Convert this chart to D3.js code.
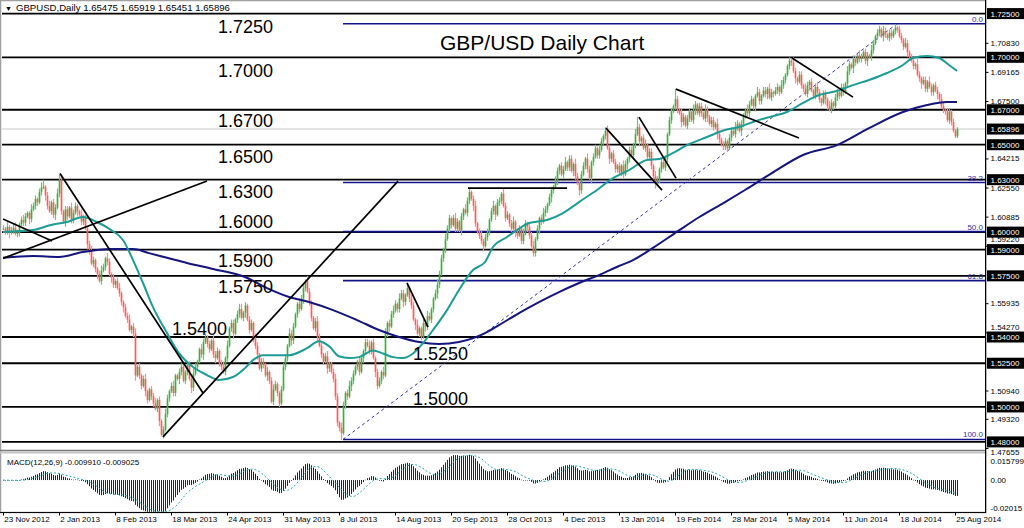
<!DOCTYPE html>
<html><head><meta charset="utf-8">
<script src="https://cdn.jsdelivr.net/npm/d3@7"></script>
<style>
body{margin:0;background:#fff}
svg{display:block}
text{font-family:"Liberation Sans",Arial,sans-serif}
</style></head>
<body><svg id="c" width="1024" height="528"></svg>
<script>
// ---------- DATA ----------
const dateLabels = ["23 Nov 2012","2 Jan 2013","8 Feb 2013","18 Mar 2013","24 Apr 2013","31 May 2013","8 Jul 2013","14 Aug 2013","20 Sep 2013","28 Oct 2013","4 Dec 2013","13 Jan 2014","19 Feb 2014","28 Mar 2014","5 May 2014","11 Jun 2014","18 Jul 2014","25 Aug 2014"];
const dateTickIdx = [0,28,56,84,112,140,168,196,224,252,280,308,336,364,392,420,448,476];

// daily closes (price x 10000)
const closes = [
16020,16005,16030,15995,16010,16025,15990,16005,16045,16070,16055,16090,16110,16075,16130,16150,16190,16170,16230,16255,16260,16210,16150,16120,16170,16100,16140,16220,
16300,16120,16060,16130,16090,16140,16070,16110,16150,16120,16100,16060,16080,16020,15930,15890,15820,15840,15790,15760,15720,15780,15800,15850,15830,15760,15740,15700,
15720,15680,15650,15600,15570,15520,15500,15440,15460,15420,15180,15230,15180,15120,15160,15090,15040,15100,15060,15020,14990,15040,14920,14840,14870,14960,15050,15090,
15120,15080,15180,15160,15200,15230,15150,15200,15240,15160,15110,15190,15230,15260,15330,15300,15370,15400,15360,15330,15380,15300,15280,15320,15250,15230,15200,15280,
15350,15450,15480,15420,15500,15530,15560,15510,15540,15580,15500,15440,15480,15390,15350,15300,15220,15260,15240,15180,15200,15150,15030,15100,15130,15080,15020,15100,
15230,15280,15350,15420,15380,15460,15530,15590,15560,15620,15680,15720,15660,15600,15510,15450,15490,15400,15350,15300,15260,15290,15220,15250,15200,15160,15060,14910,
14880,14850,15010,15080,15060,15120,15150,15190,15230,15260,15200,15280,15320,15370,15350,15320,15370,15280,15200,15120,15150,15200,15180,15420,15480,15460,15530,15550,
15590,15560,15620,15650,15600,15640,15680,15620,15580,15500,15470,15420,15450,15400,15480,15460,15520,15500,15560,15620,15650,15700,15760,15850,15900,15960,16020,16080,
16040,16080,16020,16060,16010,16090,16130,16110,16180,16230,16190,16150,16050,16000,15980,15950,15920,15970,16000,16070,16120,16150,16100,16170,16180,16220,16150,16080,
16100,16050,16020,16060,16000,15980,16020,15950,15990,16050,16030,15980,15920,15880,15960,16020,16080,16060,16110,16130,16160,16200,16240,16260,16290,16350,16380,16330,
16360,16400,16370,16420,16350,16390,16320,16280,16240,16330,16380,16420,16360,16310,16400,16430,16480,16440,16470,16520,16550,16580,16480,16420,16450,16400,16360,16380,
16340,16380,16330,16390,16420,16470,16440,16500,16560,16600,16520,16540,16480,16500,16430,16460,16380,16320,16280,16300,16360,16400,16370,16420,16560,16640,16690,16720,
16760,16700,16680,16630,16660,16610,16650,16690,16640,16700,16730,16680,16720,16680,16650,16700,16660,16620,16640,16600,16620,16560,16530,16500,16490,16520,16480,16540,
16580,16560,16600,16620,16580,16620,16660,16700,16680,16730,16760,16720,16780,16800,16750,16780,16810,16790,16820,16770,16800,16790,16810,16830,16800,16840,16870,16900,
16950,16980,16970,16920,16880,16860,16900,16840,16820,16790,16840,16860,16810,16780,16830,16800,16760,16740,16790,16760,16720,16700,16740,16720,16770,16800,16780,16830,
16800,16850,16920,16960,16940,16990,16970,17010,16990,17000,17030,16980,17010,17000,17040,17080,17120,17140,17160,17120,17150,17130,17110,17140,17120,17150,17170,17160,
17120,17100,17060,17080,17030,17000,16980,16950,16960,16900,16880,16850,16870,16820,16860,16830,16800,16840,16810,16790,16760,16720,16700,16690,16640,16690,16630,16580,16548,16590
];
// upper / lower shadow beyond the body (in 10-pip units)
const wickUp = [
2,1,3,1,2,2,3,1,1,2,3,2,1,1,3,2,2,1,2,3,4,1,2,3,1,2,2,3,
3,3,1,2,2,1,3,2,2,1,1,3,2,2,1,2,3,2,1,1,2,3,2,1,3,2,1,2,
1,2,3,1,1,2,2,3,1,2,3,1,2,1,2,3,1,1,2,2,3,1,2,1,2,3,2,1,
2,3,1,1,2,2,3,1,2,2,1,3,2,1,1,3,2,2,1,2,1,3,2,2,1,2,3,1,
3,1,2,2,1,2,3,3,1,2,1,2,2,1,3,2,1,2,2,1,3,1,2,3,2,1,1,2,
2,2,1,3,2,2,1,1,3,2,2,1,3,2,1,1,2,3,2,2,1,2,3,1,1,2,3,2,
1,3,2,1,2,3,2,2,1,1,3,2,1,2,2,3,1,2,1,2,2,1,3,3,1,2,2,3,
2,1,3,2,2,1,3,1,2,2,1,3,1,1,2,2,3,2,1,1,2,3,2,2,1,3,2,2,
1,2,3,2,1,2,1,3,2,2,1,2,3,1,2,3,1,2,2,1,2,3,1,2,2,1,3,2,
2,1,2,3,1,2,2,1,3,2,1,2,2,3,1,2,1,2,3,2,1,2,2,1,3,2,1,2,
2,3,1,2,2,1,3,2,1,2,2,1,3,2,1,2,2,1,3,2,1,2,3,2,1,2,2,1,
2,1,3,2,1,2,2,1,3,6,2,1,2,3,1,2,2,1,3,2,1,2,3,2,1,2,2,1,
6,2,1,3,2,1,2,2,1,3,2,1,2,2,1,3,2,1,2,2,1,3,2,1,2,2,1,2,
2,1,3,2,1,2,2,1,3,2,2,1,1,3,2,1,2,2,1,3,2,1,2,2,1,3,2,1,
1,2,1,3,2,1,2,2,1,3,2,1,2,1,2,3,2,1,2,2,1,3,2,1,2,2,1,2,
2,1,3,2,1,2,2,1,3,2,1,2,2,1,3,2,1,2,2,1,3,2,1,2,2,1,2,1,
2,2,1,3,2,1,2,2,1,3,2,1,2,2,1,3,2,1,2,2,1,3,2,1,2,2,1,2,1,1
];
const wickDn = [
1,2,2,3,1,2,1,2,3,1,2,2,1,3,2,1,2,2,1,2,1,3,2,1,2,2,3,1,
2,2,1,3,2,1,2,2,1,3,1,2,2,1,3,2,1,2,2,3,1,2,1,2,2,1,3,2,
2,1,2,2,3,1,2,1,2,2,3,1,2,2,1,3,2,1,2,2,1,2,3,1,2,1,2,2,
1,2,2,1,3,2,1,2,2,1,3,2,1,2,1,2,3,1,2,2,1,2,3,1,2,2,1,2,
2,1,2,3,1,2,2,1,2,3,1,2,1,2,2,3,1,2,2,1,3,2,1,2,1,2,2,1,
1,2,2,1,3,2,1,2,2,1,3,2,1,2,2,1,2,3,1,2,2,1,3,2,1,2,2,2,
2,4,1,2,2,1,3,2,1,2,2,1,3,2,1,2,2,1,3,2,1,2,2,1,2,3,1,2,
1,2,2,1,3,2,1,2,2,1,3,1,2,2,1,3,2,1,2,2,1,3,2,1,2,2,1,2,
2,1,2,2,1,3,2,1,2,2,1,3,2,1,2,2,3,1,2,2,1,2,3,1,2,2,1,2,
1,2,2,1,3,2,1,2,2,1,3,2,1,2,2,1,3,2,1,2,2,1,3,2,1,2,2,1,
2,1,2,2,1,3,2,1,3,2,1,2,2,1,3,2,1,2,2,1,2,2,1,3,2,1,2,2,
1,2,2,1,3,2,1,2,2,1,3,2,1,2,2,1,2,3,3,1,2,2,1,2,2,1,2,1,
2,2,1,3,2,1,2,2,1,2,3,1,2,2,1,2,3,1,2,2,1,3,2,1,2,2,2,1,
2,1,2,2,1,3,2,1,2,2,1,2,3,1,2,2,1,2,3,1,2,2,1,2,2,1,2,2,
1,2,2,1,3,2,1,2,2,1,2,3,1,2,2,1,2,2,1,3,2,1,2,2,1,2,2,1,
2,1,2,2,1,3,2,1,2,2,1,2,3,1,2,2,1,2,2,1,3,2,1,2,2,1,2,2,
1,2,2,1,3,2,1,2,2,1,2,3,1,2,2,1,2,2,1,3,2,1,2,2,1,2,2,1,1,1
];

// moving average (teal): bar index / value
const tealIdx = [0,15,24,32,40,47,54,60,65,70,75,82,88,95,102,108,115,121,125,130,135,143,152,158,163,168,173,178,185,190,195,200,205,210,215,222,228,235,241,245,252,257,263,272,280,288,297,305,313,322,328,335,342,352,361,368,375,383,392,400,408,417,425,433,442,450,455,462,468,473,477];
const tealVal = [1.6001,1.6012,1.6041,1.6058,1.6086,1.6058,1.6012,1.5955,1.5840,1.5709,1.5571,1.5423,1.5308,1.5228,1.5182,1.5154,1.5171,1.5222,1.5268,1.5296,1.5296,1.5296,1.5336,1.5376,1.5348,1.5290,1.5280,1.5285,1.5323,1.5306,1.5285,1.5280,1.5306,1.5365,1.5440,1.5554,1.5669,1.5783,1.5829,1.5915,1.5972,1.6012,1.6052,1.6069,1.6109,1.6172,1.6241,1.6309,1.6355,1.6412,1.6418,1.6453,1.6498,1.6544,1.6584,1.6601,1.6630,1.6658,1.6687,1.6739,1.6784,1.6807,1.6841,1.6870,1.6910,1.6956,1.6996,1.7007,1.6996,1.6956,1.6922];
// moving average (navy)
const navyIdx = [0,15,28,40,54,65,73,82,92,105,121,132,143,153,165,177,188,198,208,218,228,241,248,258,268,278,288,298,308,315,325,338,348,361,371,383,400,417,433,450,462,472,477];
const navyVal = [1.5853,1.5863,1.5858,1.5886,1.5903,1.5903,1.5880,1.5853,1.5823,1.5789,1.5743,1.5680,1.5629,1.5600,1.5554,1.5497,1.5440,1.5400,1.5371,1.5360,1.5371,1.5422,1.5468,1.5537,1.5600,1.5657,1.5709,1.5754,1.5806,1.5840,1.5910,1.6010,1.6085,1.6172,1.6241,1.6327,1.6441,1.6498,1.6595,1.6687,1.6727,1.6744,1.6744];

const levels = [1.725,1.70,1.67,1.65,1.63,1.60,1.59,1.575,1.54,1.525,1.50,1.48];
const lastPrice = 1.65896;
const axisTicks = [1.70830,1.69165,1.67500,1.64215,1.62550,1.60885,1.59220,1.55935,1.54270,1.50940,1.49320,1.47655];
const levelTexts = ["1.7250","1.7000","1.6700","1.6500","1.6300","1.6000","1.5900","1.5750","1.5400","1.5250","1.5000"];
const levelTextVals = [1.725,1.70,1.67,1.65,1.63,1.60,1.59,1.575,1.54,1.525,1.50];
const levelTextIdx = [107.5,107.5,107.5,107.5,107.5,107.5,107.5,107.5,84.5,205,205];
const trendLines = [
 [0,1.6075,24.5,1.5949],
 [0,1.5850,102,1.6292],
 [28.5,1.6335,100,1.5080],
 [80,1.4829,197.5,1.6292],
 [232.5,1.6252,282,1.6252],
 [202,1.5710,212.5,1.5456],
 [301.5,1.6595,329.5,1.6240],
 [318,1.6658,336.5,1.6309],
 [336.5,1.6818,398,1.6538],
 [394.5,1.6996,425,1.6772]
];
const fibLow = 1.4814, fibHigh = 1.7192, fibLowIdx = 170, fibHighIdx = 447;
const fibRatios = [0,0.382,0.5,0.618,1];
const fibNames = ["0.0","38.2","50.0","61.8","100.0"];
const macdTicks = [0.015799,0,-0.02015];
const macdTickNames = ["0.015799","0.00","-0.02015"];

// ---------- LAYOUT ----------
const svg = d3.select("#c");
const AX = 985.5;
const x = d3.scaleLinear().domain([0, closes.length-1]).range([3, 957]);
const y = d3.scaleLinear().domain([1.48, 1.70]).range([441.9, 57.3]);
const ym = d3.scaleLinear().domain([-0.02015, 0.015799]).range([512, 455]);

const defs = svg.append("defs");
defs.append("clipPath").attr("id","cm").append("rect").attr("x",2).attr("y",2).attr("width",AX-2).attr("height",448);
defs.append("clipPath").attr("id","cb").append("rect").attr("x",2).attr("y",454).attr("width",AX-2).attr("height",58);

const main = svg.append("g").attr("clip-path","url(#cm)");

main.append("line").attr("x1",2).attr("x2",AX).attr("y1",y(lastPrice)).attr("y2",y(lastPrice))
  .attr("stroke","#c8c8c8").attr("stroke-width",1);

main.selectAll("line.lv").data(levels).enter().append("line").attr("class","lv")
  .attr("x1",2).attr("x2",AX).attr("y1",d=>y(d)).attr("y2",d=>y(d))
  .attr("stroke","#000").attr("stroke-width",1.8);

const fibVals = fibRatios.map(r => fibHigh - r*(fibHigh-fibLow));
main.selectAll("line.fib").data(fibVals).enter().append("line").attr("class","fib")
  .attr("x1",x(fibLowIdx)).attr("x2",AX).attr("y1",d=>y(d)).attr("y2",d=>y(d))
  .attr("stroke","#14148a").attr("stroke-width",1.6);
main.append("line").attr("x1",x(fibLowIdx)).attr("y1",y(fibLow)).attr("x2",x(fibHighIdx)).attr("y2",y(fibHigh))
  .attr("stroke","#3030a0").attr("stroke-width",1).attr("stroke-dasharray","3,3");
main.selectAll("text.fibt").data(fibVals).enter().append("text").attr("class","fibt")
  .attr("x",983).attr("y",d=>y(d)-2).attr("text-anchor","end").attr("font-size",8).attr("fill","#3030a0")
  .text((d,i)=>fibNames[i]);

// candles
const bars = closes.map((c,i)=>{
  const o=(i?closes[i-1]:c)/10000, cc=c/10000;
  return {i, o, c:cc, h:Math.max(o,cc)+wickUp[i]/1000, l:Math.min(o,cc)-wickDn[i]/1000};
});
const cg = main.append("g");
cg.selectAll("line.wk").data(bars).enter().append("line").attr("class","wk")
  .attr("x1",d=>x(d.i)+0.5).attr("x2",d=>x(d.i)+0.5).attr("y1",d=>y(d.h)).attr("y2",d=>y(d.l))
  .attr("stroke",d=>d.c>=d.o?"#6cc46c":"#ff8c8c").attr("stroke-width",1.2);
cg.selectAll("rect.cd").data(bars).enter().append("rect").attr("class","cd")
  .attr("x",d=>x(d.i)-0.3).attr("width",1.6)
  .attr("y",d=>y(Math.max(d.o,d.c)))
  .attr("height",d=>Math.max(1,Math.abs(y(d.o)-y(d.c))))
  .attr("fill",d=>d.c>=d.o?"#3fae3f":"#ff5a5a");

const lineGen = d3.line().x(d=>x(d[0])).y(d=>y(d[1])).curve(d3.curveMonotoneX);
main.append("path").datum(navyIdx.map((d,i)=>[d,navyVal[i]])).attr("d",lineGen)
  .attr("fill","none").attr("stroke","#15157f").attr("stroke-width",2);
main.append("path").datum(tealIdx.map((d,i)=>[d,tealVal[i]])).attr("d",lineGen)
  .attr("fill","none").attr("stroke","#1d9c96").attr("stroke-width",2);

main.selectAll("line.tr").data(trendLines).enter().append("line").attr("class","tr")
  .attr("x1",d=>x(d[0])).attr("y1",d=>y(d[1])).attr("x2",d=>x(d[2])).attr("y2",d=>y(d[3]))
  .attr("stroke","#000").attr("stroke-width",1.7);

const dys = [19,20,17.5,18,18.5,-4,17,17,-2,-3,-2];
main.selectAll("text.lt").data(levelTexts).enter().append("text").attr("class","lt")
  .attr("x",(d,i)=>x(levelTextIdx[i])).attr("y",(d,i)=>y(levelTextVals[i])+dys[i])
  .attr("font-size",18).attr("fill","#000").text(d=>d);
main.append("text").attr("x",440).attr("y",50).attr("font-size",21).attr("fill","#000").text("GBP/USD Daily Chart");

// ---------- MACD ----------
const cp = closes.map(v=>v/10000);
let e12 = cp[0], e26 = cp[0];
const macd = cp.map(v=>{ e12 = e12 + (2/13)*(v-e12); e26 = e26 + (2/27)*(v-e26); return e12-e26; });
const signal = macd.map((v,i)=>d3.mean(macd.slice(Math.max(0,i-8), i+1)));
const sub = svg.append("g").attr("clip-path","url(#cb)");
sub.selectAll("rect.h").data(macd).enter().append("rect").attr("class","h")
  .attr("x",(d,i)=>x(i)).attr("width",1)
  .attr("y",d=>ym(Math.max(0,d))).attr("height",d=>Math.max(0.5,Math.abs(ym(d)-ym(0))))
  .attr("fill","#262626");
sub.append("path").datum(signal).attr("d",d3.line().x((d,i)=>x(i)).y(d=>ym(d)))
  .attr("fill","none").attr("stroke","#2aa6a6").attr("stroke-width",1).attr("stroke-dasharray","2,2");
svg.append("text").attr("x",7).attr("y",465).attr("font-size",8).attr("fill","#000")
  .text("MACD(12,26,9) -0.009910 -0.009025");

// ---------- FRAME ----------
svg.append("rect").attr("x",0.5).attr("y",0.5).attr("width",AX).attr("height",512).attr("fill","none").attr("stroke","#a0a0a0").attr("stroke-width",1.5);
svg.append("line").attr("x1",0).attr("x2",AX).attr("y1",450.5).attr("y2",450.5).attr("stroke","#7a7a7a").attr("stroke-width",1.5);
svg.append("line").attr("x1",0).attr("x2",AX).attr("y1",452.5).attr("y2",452.5).attr("stroke","#c4c4c4").attr("stroke-width",2);
svg.append("line").attr("x1",0).attr("x2",AX).attr("y1",512.5).attr("y2",512.5).attr("stroke","#000").attr("stroke-width",1);
svg.append("line").attr("x1",AX).attr("x2",AX).attr("y1",0).attr("y2",513).attr("stroke","#000").attr("stroke-width",1);

svg.append("text").attr("x",5).attr("y",11).attr("font-size",7).attr("fill","#000").text("\u25BC");
svg.append("text").attr("x",16).attr("y",11).attr("font-size",9.6).attr("fill","#000")
  .text("GBPUSD,Daily  1.65475 1.65919 1.65451 1.65896");

// ---------- AXES ----------
const tickShift = {"1.59220":-6.5, "1.54270":-5.5, "1.47655":4.2};
const ra = svg.append("g").attr("transform",`translate(${AX},0)`)
  .call(d3.axisRight(y).tickValues(axisTicks).tickFormat(d3.format(".5f")).tickSize(3).tickPadding(2));
ra.select(".domain").remove();
ra.selectAll("text").attr("font-size",8).attr("font-family","Liberation Sans, Arial, sans-serif").attr("fill","#000")
  .attr("y",d=>tickShift[d.toFixed(5)]||0);
ra.selectAll("line").attr("stroke","#000");

const boxVals = levels.concat([lastPrice]);
const bx = svg.append("g");
bx.selectAll("rect").data(boxVals).enter().append("rect")
  .attr("x",AX+1.5).attr("width",1024-AX).attr("y",d=>y(d)-5.5).attr("height",11).attr("fill","#000");
bx.selectAll("text").data(boxVals).enter().append("text")
  .attr("x",AX+5).attr("y",d=>y(d)+3).attr("font-size",8).attr("fill","#fff").text(d=>d.toFixed(5));

const ma = svg.append("g").attr("transform",`translate(${AX},0)`)
  .call(d3.axisRight(ym).tickValues(macdTicks).tickFormat((d,i)=>macdTickNames[i]).tickSize(0).tickPadding(5));
ma.select(".domain").remove();
ma.selectAll("text").attr("font-size",8).attr("font-family","Liberation Sans, Arial, sans-serif").attr("fill","#000")
  .attr("dy",(d,i)=>[ "1.12em","0.32em","-0.2em"][i]);

const xa = svg.append("g").attr("transform","translate(0,512.5)")
  .call(d3.axisBottom(x).tickValues(dateTickIdx).tickFormat((d,i)=>dateLabels[i]).tickSize(3).tickPadding(1));
xa.select(".domain").remove();
xa.selectAll("text").attr("font-size",8).attr("font-family","Liberation Sans, Arial, sans-serif").attr("fill","#000")
  .attr("text-anchor","start").attr("dx","0.1em");
xa.selectAll("line").attr("stroke","#000");
</script>
</body></html>
